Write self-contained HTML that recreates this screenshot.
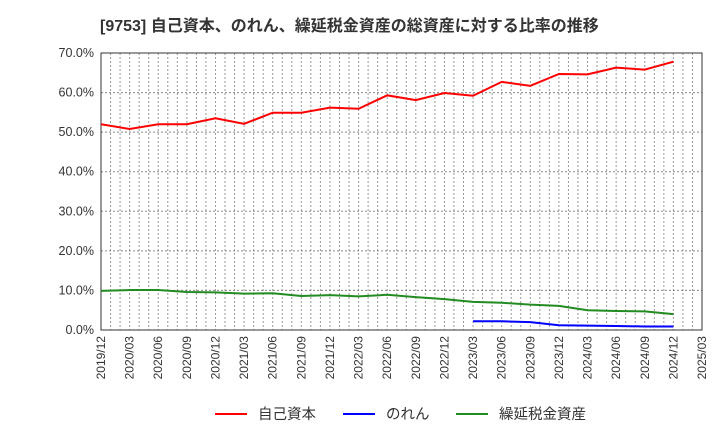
<!DOCTYPE html>
<html><head><meta charset="utf-8"><style>
body{margin:0;background:#fff;font-family:"Liberation Sans","Noto Sans CJK JP",sans-serif}
svg text{font-family:"Liberation Sans","Noto Sans CJK JP",sans-serif}
</style></head><body>
<svg id="c" width="720" height="440">
<text x="100" y="31" font-size="16" font-weight="bold" fill="#333">[9753]  自己資本、のれん、繰延税金資産の総資産に対する比率の推移</text>
<g id="grid"></g><g id="axes"></g><g id="series"></g>
<g>
<line x1="215" y1="414" x2="247" y2="414" stroke="#f00" stroke-width="2"/><text x="258" y="419" font-size="14.5" fill="#333">自己資本</text>
<line x1="343" y1="414" x2="375" y2="414" stroke="#00f" stroke-width="2"/><text x="386" y="419" font-size="14.5" fill="#333">のれん</text>
<line x1="456" y1="414" x2="488" y2="414" stroke="#228b22" stroke-width="2"/><text x="499" y="419" font-size="14.5" fill="#333">繰延税金資産</text>
</g>
</svg>
<script>
const categories=["2019/12","2020/03","2020/06","2020/09","2020/12","2021/03","2021/06","2021/09","2021/12","2022/03","2022/06","2022/09","2022/12","2023/03","2023/06","2023/09","2023/12","2024/03","2024/06","2024/09","2024/12","2025/03"];
const yTicks=[0,10,20,30,40,50,60,70];
const equity=[52.0,50.8,52.0,52.0,53.5,52.1,54.9,54.9,56.2,55.9,59.3,58.1,59.9,59.2,62.7,61.7,64.7,64.6,66.3,65.8,67.8];
const goodwillStart=13;
const goodwill=[2.2,2.2,2.0,1.2,1.1,1.0,0.9,0.9];
const dta=[9.9,10.1,10.1,9.6,9.5,9.2,9.3,8.6,8.8,8.5,8.9,8.3,7.8,7.1,6.9,6.4,6.1,5.0,4.8,4.7,4.0];
const L=101,R=702,T=53,B=330,NS="http://www.w3.org/2000/svg";
const x=i=>L+(R-L)*i/(categories.length-1);
const y=v=>B-(B-T)*v/70;
function mk(tag,attrs,parent){const e=document.createElementNS(NS,tag);for(const k in attrs)e.setAttribute(k,attrs[k]);parent.appendChild(e);return e;}
const grid=document.getElementById('grid'),axes=document.getElementById('axes'),ser=document.getElementById('series');
for(let m=0;m<=(categories.length-1)*3;m++){const xx=L+(R-L)*m/((categories.length-1)*3);
const l=mk('line',{x1:xx,x2:xx,y1:T,y2:B,stroke:'#999','stroke-dasharray':'2,2','stroke-width':1},grid);

}
yTicks.forEach(v=>{const l=mk('line',{x1:L,x2:R,y1:y(v),y2:y(v),stroke:'#888','stroke-dasharray':'2,2'},grid);


const t=mk('text',{x:L-7,y:y(v)+4,'text-anchor':'end','font-size':12.5,fill:'#333'},axes);t.textContent=v.toFixed(1)+'%';

});
const f=mk('rect',{x:L,y:T,width:R-L,height:B-T,fill:'none',stroke:'#333'},axes);


categories.forEach((c,i)=>{const t=mk('text',{transform:`translate(${x(i)+4},${B+6}) rotate(-90)`,'text-anchor':'end','font-size':12,fill:'#333'},axes);t.textContent=c;

});
function line(vals,off,color,name){const p=mk('polyline',{points:vals.map((v,i)=>x(i+off)+','+y(v)).join(' '),fill:'none',stroke:color,'stroke-width':2},ser);

}
line(equity,0,'#f00','equity-line');
line(goodwill,goodwillStart,'#00f','goodwill-line');
line(dta,0,'#228b22','dta-line');
</script>
</body></html>
